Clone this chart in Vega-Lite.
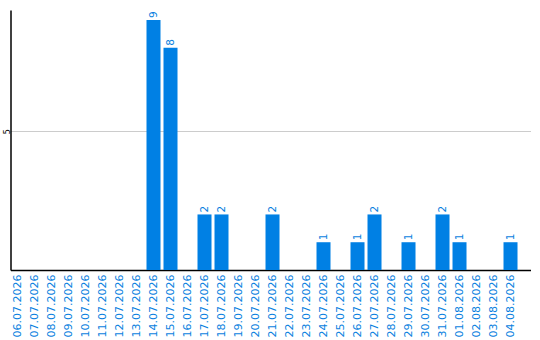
{
  "$schema": "https://vega.github.io/schema/vega-lite/v6.json",
  "width": 520,
  "height": 260,
  "autosize": "none",
  "padding": {"left": 10.5, "top": 10, "right": 9.5, "bottom": 70},
  "background": "white",
  "config": {"view": {"stroke": null}, "font": "DejaVu Sans"},
  "data": {
    "values": [
      {"date": "06.07.2026", "count": 0},
      {"date": "07.07.2026", "count": 0},
      {"date": "08.07.2026", "count": 0},
      {"date": "09.07.2026", "count": 0},
      {"date": "10.07.2026", "count": 0},
      {"date": "11.07.2026", "count": 0},
      {"date": "12.07.2026", "count": 0},
      {"date": "13.07.2026", "count": 0},
      {"date": "14.07.2026", "count": 9},
      {"date": "15.07.2026", "count": 8},
      {"date": "16.07.2026", "count": 0},
      {"date": "17.07.2026", "count": 2},
      {"date": "18.07.2026", "count": 2},
      {"date": "19.07.2026", "count": 0},
      {"date": "20.07.2026", "count": 0},
      {"date": "21.07.2026", "count": 2},
      {"date": "22.07.2026", "count": 0},
      {"date": "23.07.2026", "count": 0},
      {"date": "24.07.2026", "count": 1},
      {"date": "25.07.2026", "count": 0},
      {"date": "26.07.2026", "count": 1},
      {"date": "27.07.2026", "count": 2},
      {"date": "28.07.2026", "count": 0},
      {"date": "29.07.2026", "count": 1},
      {"date": "30.07.2026", "count": 0},
      {"date": "31.07.2026", "count": 2},
      {"date": "01.08.2026", "count": 1},
      {"date": "02.08.2026", "count": 0},
      {"date": "03.08.2026", "count": 0},
      {"date": "04.08.2026", "count": 1}
    ]
  },
  "encoding": {
    "x": {
      "field": "date",
      "type": "ordinal",
      "sort": null,
      "scale": {"paddingInner": 0.176, "paddingOuter": 0.382, "align": 0},
      "axis": {
        "title": null,
        "labelAngle": 270,
        "labelColor": "#0a7fe0",
        "labelFontSize": 11,
        "labelPadding": 4,
        "ticks": false,
        "domainColor": "black",
        "domainWidth": 1.5,
        "labelOverlap": false
      }
    },
    "y": {
      "field": "count",
      "type": "quantitative",
      "scale": {"domain": [0, 9.36], "nice": false},
      "axis": {
        "title": null,
        "values": [5],
        "labelAngle": 270,
        "labelFontSize": 8,
        "labelColor": "black",
        "labelPadding": -1,
        "ticks": false,
        "domainColor": "black",
        "domainWidth": 1.5,
        "gridColor": "#cccccc",
        "gridWidth": 1
      }
    }
  },
  "layer": [
    {
      "mark": {"type": "bar", "color": "#0080e4"}
    },
    {
      "transform": [{"filter": "datum.count > 0"}],
      "mark": {
        "type": "text",
        "angle": 270,
        "align": "left",
        "baseline": "middle",
        "dx": 2,
        "fontSize": 10.5,
        "color": "#0a7fe0"
      },
      "encoding": {"text": {"field": "count", "type": "quantitative"}}
    }
  ]
}
